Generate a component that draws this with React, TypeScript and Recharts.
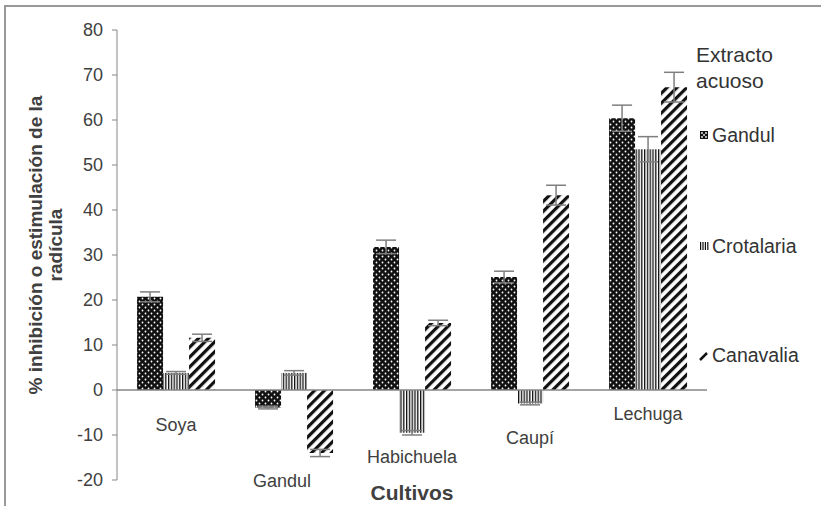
import { BarChart, Bar, XAxis, YAxis, ReferenceLine, ErrorBar, Legend } from 'recharts';

const categories = ['Soya', 'Gandul', 'Habichuela', 'Caupí', 'Lechuga'];
const gandul = [20.7, -3.9, 31.8, 25.1, 60.4];
const gandulErr = [1.1, 0.3, 1.5, 1.3, 2.9];
const crotalaria = [3.8, 3.8, -9.5, -3.0, 53.5];
const crotalariaErr = [0.3, 0.5, 0.5, 0.3, 2.8];
const canavalia = [11.6, -14.0, 14.9, 43.3, 67.3];
const canavaliaErr = [0.8, 0.8, 0.6, 2.2, 3.3];
const yTicks = [-20, -10, 0, 10, 20, 30, 40, 50, 60, 70, 80];

const data = categories.map((name, i) => ({
  name,
  gandul: gandul[i],
  gandulErr: gandulErr[i],
  crotalaria: crotalaria[i],
  crotalariaErr: crotalariaErr[i],
  canavalia: canavalia[i],
  canavaliaErr: canavaliaErr[i],
}));

const FONT = '"Liberation Sans", Arial, sans-serif';
const AXIS = '#868686';
const TEXT = '#404040';
const ERR = '#7f7f7f';

// the category labels in the original were placed by hand under each group
const labelBaseline: Record<string, number> = {
  Soya: 431,
  Gandul: 487,
  Habichuela: 463,
  'Caupí': 444,
  Lechuga: 420,
};
const labelShift: Record<string, number> = { Gandul: -12 };

const CategoryTick = ({ x, payload }: any) => (
  <text
    x={x + (labelShift[payload.value] || 0)}
    y={labelBaseline[payload.value]}
    textAnchor="middle"
    fill={TEXT}
    fontSize={18}
    fontFamily={FONT}
  >
    {payload.value}
  </text>
);

const YTitle = () => (
  <text
    transform="translate(0,245) rotate(-90)"
    textAnchor="middle"
    fill={TEXT}
    fontSize={19}
    fontWeight="bold"
    fontFamily={FONT}
  >
    <tspan x={0} y={42}>% inhibición o estimulación de la</tspan>
    <tspan x={0} y={62}>radícula</tspan>
  </text>
);

const XTitle = ({ viewBox }: any) => (
  <text
    x={viewBox.x + viewBox.width / 2}
    y={500}
    textAnchor="middle"
    fill={TEXT}
    fontSize={21}
    fontWeight="bold"
    fontFamily={FONT}
  >
    Cultivos
  </text>
);

const legendRows = [
  { key: 'Gandul', y: 142 },
  { key: 'Crotalaria', y: 253 },
  { key: 'Canavalia', y: 362 },
];

const Swatch = ({ name, y }: { name: string; y: number }) => {
  const top = y - 11;
  if (name === 'Gandul') {
    return (
      <g>
        <rect x={10} y={top} width={8} height={8} fill="#111" />
        <circle cx={12} cy={top + 2} r={0.9} fill="#fff" />
        <circle cx={16} cy={top + 2} r={0.9} fill="#fff" />
        <circle cx={14} cy={top + 4} r={0.9} fill="#fff" />
        <circle cx={12} cy={top + 6} r={0.9} fill="#fff" />
        <circle cx={16} cy={top + 6} r={0.9} fill="#fff" />
      </g>
    );
  }
  if (name === 'Crotalaria') {
    return (
      <g>
        {[0, 1, 2, 3].map((k) => (
          <rect key={k} x={10 + k * 2.4} y={top} width={1.2} height={8} fill="#111" />
        ))}
      </g>
    );
  }
  return <line x1={10} y1={y - 2} x2={17} y2={y - 9} stroke="#111" strokeWidth={2.5} />;
};

const renderLegend = () => (
  <svg width={131} height={400} style={{ display: 'block' }}>
    <text fill="#333" fontSize={21} fontFamily={FONT}>
      <tspan x={6} y={62}>Extracto</tspan>
      <tspan x={6} y={88}>acuoso</tspan>
    </text>
    {legendRows.map((r) => (
      <g key={r.key}>
        <Swatch name={r.key} y={r.y} />
        <text x={22} y={r.y} fill="#333" fontSize={19.5} fontFamily={FONT}>
          {r.key}
        </text>
      </g>
    ))}
  </svg>
);

export default function App() {
  return (
    <div style={{ position: 'absolute', left: 0, top: 0, width: 821, height: 506, background: '#fff' }}>
      <div
        style={{
          position: 'absolute',
          left: 4,
          top: 5,
          width: 817,
          height: 501,
          borderTop: '2px solid #999',
          borderLeft: '2px solid #999',
          boxSizing: 'border-box',
        }}
      />
      <BarChart
        width={821}
        height={506}
        data={data}
        margin={{ top: 30, right: 114, left: 57, bottom: 0 }}
        barGap={0}
        barCategoryGap="17%"
      >
        <defs>
          <pattern id="dots" width={6} height={6} patternUnits="userSpaceOnUse">
            <rect width={6} height={6} fill="#111" />
            <circle cx={1.5} cy={1.5} r={0.9} fill="#fff" />
            <circle cx={4.5} cy={4.5} r={0.9} fill="#fff" />
          </pattern>
          <pattern id="vlines" width={2.8} height={6} patternUnits="userSpaceOnUse">
            <rect width={2.8} height={6} fill="#fff" />
            <rect width={1.3} height={6} fill="#111" />
          </pattern>
          <pattern id="diag" width={7} height={7} patternUnits="userSpaceOnUse" patternTransform="rotate(45)">
            <rect width={7} height={7} fill="#fff" />
            <rect width={3.2} height={7} fill="#111" />
          </pattern>
        </defs>
        <XAxis
          dataKey="name"
          height={26}
          axisLine={false}
          tickLine={false}
          interval={0}
          tick={<CategoryTick />}
          label={{ content: <XTitle /> }}
        />
        <YAxis
          width={60}
          domain={[-20, 80]}
          ticks={yTicks}
          interval={0}
          stroke={AXIS}
          tickSize={5}
          tickMargin={9}
          tick={{ fill: TEXT, fontSize: 18, fontFamily: FONT }}
          label={{ content: <YTitle /> }}
        />
        <ReferenceLine y={0} stroke={AXIS} strokeWidth={1.5} />
        <Legend
          layout="vertical"
          align="center"
          verticalAlign="middle"
          content={renderLegend}
          wrapperStyle={{ position: 'absolute', left: 690, top: 0, width: 131 }}
        />
        <Bar dataKey="gandul" name="Gandul" fill="url(#dots)" isAnimationActive={false}>
          <ErrorBar dataKey="gandulErr" width={10} stroke={ERR} strokeWidth={1.5} />
        </Bar>
        <Bar dataKey="crotalaria" name="Crotalaria" fill="url(#vlines)" isAnimationActive={false}>
          <ErrorBar dataKey="crotalariaErr" width={10} stroke={ERR} strokeWidth={1.5} />
        </Bar>
        <Bar dataKey="canavalia" name="Canavalia" fill="url(#diag)" isAnimationActive={false}>
          <ErrorBar dataKey="canavaliaErr" width={10} stroke={ERR} strokeWidth={1.5} />
        </Bar>
      </BarChart>
    </div>
  );
}
